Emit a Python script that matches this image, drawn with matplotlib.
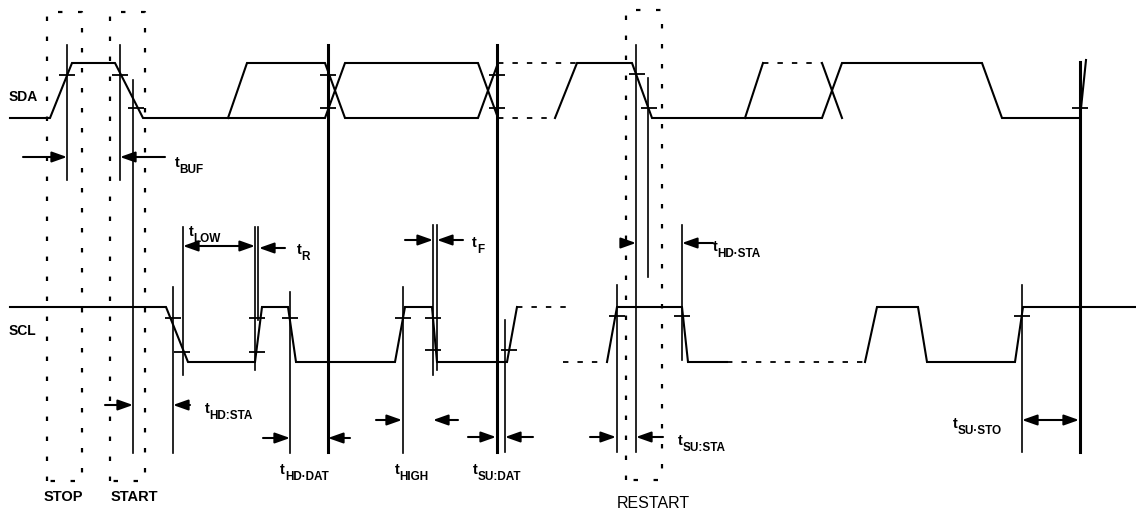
import matplotlib
matplotlib.use("Agg")
import matplotlib.pyplot as plt

plt.rcParams['font.family'] = ['Liberation Sans', 'DejaVu Sans']

# ---------------- data (pixel coordinates of the timing diagram) ----------------
SDA_HI, SDA_LO = 63, 118
SCL_HI, SCL_LO = 307, 362

# SDA solid polylines (x list, y list)
sda_solid = [
    ([10, 50, 72, 115, 143, 325, 345, 478, 498],
     [SDA_LO, SDA_LO, SDA_HI, SDA_HI, SDA_LO, SDA_LO, SDA_HI, SDA_HI, SDA_LO]),
    ([228, 247, 325, 345, 478, 498],
     [SDA_LO, SDA_HI, SDA_HI, SDA_LO, SDA_LO, SDA_HI]),
    ([555, 577, 632, 652, 822, 842, 982, 1002, 1080],
     [SDA_LO, SDA_HI, SDA_HI, SDA_LO, SDA_LO, SDA_HI, SDA_HI, SDA_LO, SDA_LO]),
    ([745, 763], [SDA_LO, SDA_HI]),
    ([822, 842], [SDA_HI, SDA_LO]),
    ([1080, 1086], [SDA_LO, 60]),
]
sda_dashed = [
    ([498, 577], [SDA_HI, SDA_HI]),
    ([498, 555], [SDA_LO, SDA_LO]),
    ([763, 822], [SDA_HI, SDA_HI]),
]

scl_solid = [
    ([10, 166, 188, 255, 262, 288, 296, 395, 405, 432, 437, 507, 517],
     [SCL_HI, SCL_HI, SCL_LO, SCL_LO, SCL_HI, SCL_HI, SCL_LO, SCL_LO, SCL_HI, SCL_HI, SCL_LO, SCL_LO, SCL_HI]),
    ([607, 617, 682, 688, 727],
     [SCL_LO, SCL_HI, SCL_HI, SCL_LO, SCL_LO]),
    ([865, 877, 918, 927, 1015, 1023, 1136],
     [SCL_LO, SCL_HI, SCL_HI, SCL_LO, SCL_LO, SCL_HI, SCL_HI]),
]
scl_dashed = [
    ([517, 570], [SCL_HI, SCL_HI]),
    ([563, 605], [SCL_LO, SCL_LO]),
    ([727, 865], [SCL_LO, SCL_LO]),
]

# threshold tick crosses
tick_x = [67, 120, 136, 328, 328, 497, 497, 637, 649, 1080,
          173, 182, 257, 257, 290, 403, 433, 433, 509, 617, 682, 1022]
tick_y = [75, 75, 108, 75, 108, 75, 108, 74, 108, 108,
          318, 352, 318, 352, 318, 318, 318, 350, 350, 316, 316, 316]

# vertical reference lines: x, y top, y bottom
vthin_x = [67, 120, 133, 648, 173, 183, 255, 258, 290, 403, 433, 437, 505, 617, 682, 1022, 636]
vthin_y0 = [45, 45, 80, 78, 287, 227, 227, 227, 292, 287, 225, 225, 320, 285, 225, 285, 45]
vthin_y1 = [180, 180, 453, 277, 453, 375, 370, 320, 453, 453, 375, 370, 452, 452, 360, 452, 452]
vthick_x = [328, 497, 1080]
vthick_y0 = [45, 45, 62]
vthick_y1 = [452, 452, 452]

# dotted condition boxes: x0, x1, y0, y1
box_x0 = [47, 110, 626]
box_x1 = [82, 145, 662]
box_y0 = [12, 12, 10]
box_y1 = [481, 481, 480]

# single-headed arrows: tail x, tip x, y
arr_tail = [23, 165, 285, 405, 463, 622, 713, 105, 190, 263, 350, 376, 458, 468, 533, 590, 663]
arr_tip = [67, 120, 259, 433, 437, 636, 682, 133, 173, 290, 328, 402, 433, 496, 505, 616, 636]
arr_y = [157, 157, 248, 240, 240, 243, 243, 405, 405, 438, 438, 420, 420, 437, 437, 437, 437]
# double-headed arrows: x0, x1, y
darr_x0 = [183, 1022]
darr_x1 = [255, 1079]
darr_y = [246, 420]

# timing labels: x, baseline y, subscript
tl_x = [175, 189, 297, 472, 713, 205, 280, 395, 473, 678, 953]
tl_y = [167, 236, 254, 247, 251, 413, 474, 474, 474, 445, 428]
tl_sub = ['BUF', 'LOW', 'R', 'F', 'HD·STA', 'HD:STA', 'HD·DAT', 'HIGH', 'SU:DAT', 'SU:STA', 'SU·STO']

sig_names = ['SDA', 'SCL']
sig_x = [9, 9]
sig_y = [97, 331]
cond_names = ['STOP', 'START', 'RESTART']
cond_x = [63, 134, 653]
cond_y = [497, 497, 503]
cond_size = [10.5, 10.5, 11.5]
cond_weight = ['bold', 'bold', 'normal']

# ---------------- drawing ----------------
fig = plt.figure(figsize=(11.36, 5.11), dpi=100)
ax = fig.add_axes([0, 0, 1, 1])
ax.set_xlim(0, 1136)
ax.set_ylim(511, 0)
ax.axis('off')

K = 'black'
for xs, ys in sda_solid + scl_solid:
    ax.plot(xs, ys, color=K, lw=1.5, solid_joinstyle='miter')
for xs, ys in sda_dashed + scl_dashed:
    ax.plot(xs, ys, color=K, lw=1.3, linestyle=(0, (3, 5)))

for x, a, b in zip(vthin_x, vthin_y0, vthin_y1):
    ax.plot([x, x], [a, b], color=K, lw=1.2)
for x, a, b in zip(vthick_x, vthick_y0, vthick_y1):
    ax.plot([x, x], [a, b], color=K, lw=2.2)

ax.plot(tick_x, tick_y, linestyle='none', marker='_', markersize=11, mew=1.3, color=K)

for x0, x1, y0, y1 in zip(box_x0, box_x1, box_y0, box_y1):
    ax.plot([x0, x0, x1, x1, x0], [y1, y0, y0, y1, y1], color=K, lw=1.6,
            linestyle=(0, (2, 7)))

for t, h, y in zip(arr_tail, arr_tip, arr_y):
    ax.annotate('', xy=(h, y), xytext=(t, y),
                arrowprops=dict(arrowstyle='-|>,head_length=0.9,head_width=0.32',
                                color=K, lw=1.5, shrinkA=0, shrinkB=0))
for a, b, y in zip(darr_x0, darr_x1, darr_y):
    ax.annotate('', xy=(b, y), xytext=(a, y),
                arrowprops=dict(arrowstyle='<|-|>,head_length=0.9,head_width=0.32',
                                color=K, lw=1.5, shrinkA=0, shrinkB=0))

for x, y, s in zip(tl_x, tl_y, tl_sub):
    t = ax.text(x, y, 't', fontsize=10.5, fontweight='bold', va='baseline', ha='left', color=K)
    ax.annotate(s, xy=(1, 0), xycoords=t, xytext=(0, -2.2),
                textcoords='offset points', fontsize=8.5, fontweight='bold',
                va='baseline', ha='left', color=K)

for s, x, y in zip(sig_names, sig_x, sig_y):
    ax.text(x, y, s, fontsize=10, fontweight='bold', va='center', ha='left', color=K)
for s, x, y, fs, fw in zip(cond_names, cond_x, cond_y, cond_size, cond_weight):
    ax.text(x, y, s, fontsize=fs, fontweight=fw, va='center', ha='center', color=K)

fig.savefig('out.png', dpi=100)
